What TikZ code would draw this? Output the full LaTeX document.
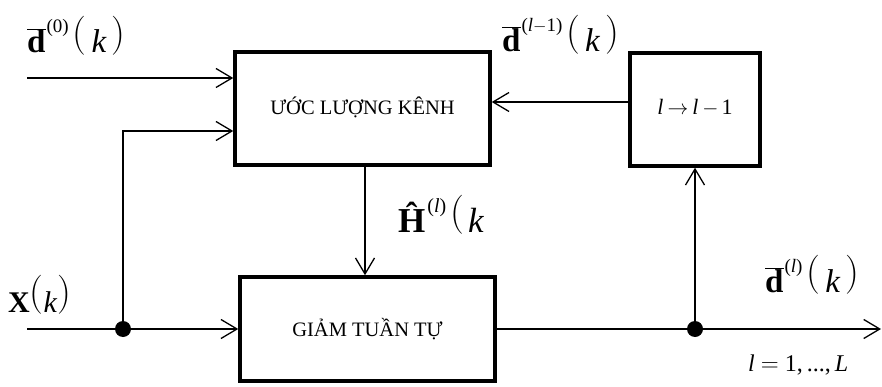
\documentclass[tikz,border=0pt]{standalone}
\usepackage{fontspec}
\setmainfont{Liberation Serif}
\usetikzlibrary{arrows.meta,calc}
\newcommand\supx[1]{\hspace{1pt}\raisebox{20pt}{\fontsize{19}{19}\selectfont #1}}
\newcommand\bard{$\overline{\hbox{\textbf{d}}}$}
\newcommand\lpar{\raisebox{7.5pt}{\fontfamily{lmr}\fontsize{39}{39}\selectfont(}}
\newcommand\rpar{\raisebox{7.5pt}{\fontfamily{lmr}\fontsize{39}{39}\selectfont)}}
\tikzset{
 blk/.style={draw, line width=3.5pt, inner sep=0pt, font=\fontsize{20.5}{24}\selectfont},
 arr/.style={line width=1.3pt, -{Straight Barb[length=16pt,width=19pt,line width=1.3pt]}},
 ln/.style={line width=1.3pt},
 dotn/.style={circle, fill, inner sep=0pt, minimum size=16pt},
 lab/.style={anchor=base west, inner sep=0pt, font=\fontsize{33}{33}\selectfont},
}
\begin{document}
\begin{tikzpicture}[x=1pt,y=-1pt]
\useasboundingbox (0,0) rectangle (882,387);
% blocks
\node[blk, minimum width=255pt, minimum height=113pt] (ce) at (362.5,108.5) {\raisebox{6pt}{ƯỚC LƯỢNG KÊNH}};
\node[blk, minimum width=130pt, minimum height=113pt] (fb) at (695,109.5) {\raisebox{4.5pt}{\fontsize{22}{22}\selectfont\textit{l}\hspace{4pt}$\rightarrow$\hspace{4pt}\textit{l}\hspace{4pt}$-$\hspace{3pt}1}};
\node[blk, minimum width=255pt, minimum height=104pt] (sd) at (367.5,329) {\raisebox{4pt}{GIẢM TUẦN TỰ}};
% junctions and free ends
\node[dotn] (j1) at (123,329) {};
\node[dotn] (j2) at (695,329) {};
\coordinate (d0s) at (27,78);
\coordinate (xs) at (27,329);
\coordinate (outp) at (881,329);
\coordinate (fy) at (0,102);
\coordinate (hx) at (365,0);
% connectors
\draw[arr] (d0s) -- (d0s -| ce.west);
\draw[ln] (xs) -- (j1);
\draw[arr] (j1) -- (sd.west |- j1);
\draw[arr] (j1) |- ($(ce.west)+(0,22.5)$);
\draw[arr] (ce.south -| hx) -- (sd.north -| hx);
\draw[ln] (sd.east) -- (j2);
\draw[arr] (j2) -- (outp);
\draw[arr] (j2) -- (fb.south);
\draw[arr] (fb.west |- fy) -- (ce.east |- fy);
% labels
\node[lab] (ld0) at (27,53) {\bard\supx{(0)}\hspace{4pt}\lpar\hspace{5pt}\textit{k}\hspace{5pt}\rpar};
\node[lab] (ldl1) at (502,52) {\bard\supx{(\textit{l}$-$1)}\hspace{4pt}\lpar\hspace{5pt}\textit{k}\hspace{5pt}\rpar};
\node[lab, font=\fontsize{35}{35}\selectfont] (lH) at (398,232) {\textbf{Ĥ}\hspace{2pt}\raisebox{20pt}{\fontsize{20}{20}\selectfont(\textit{l})}\hspace{4pt}\lpar\hspace{4pt}\textit{k}};
\node[lab, font=\fontsize{30}{30}\selectfont] (lX) at (8,312) {\textbf{X}\lpar\textit{k}\rpar};
\node[lab] (ldl) at (765,292) {\bard\supx{(\textit{l})}\hspace{4pt}\lpar\hspace{5pt}\textit{k}\hspace{5pt}\rpar};
\node[lab, font=\fontsize{24}{24}\selectfont] (lL) at (748,371) {\textit{l} $=$ 1,\,...,\,\textit{L}};
\end{tikzpicture}
\end{document}
